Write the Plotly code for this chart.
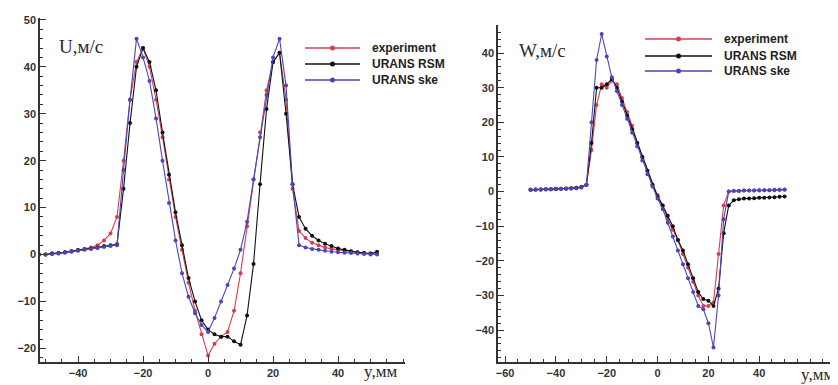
import plotly.graph_objects as go

# ---------------- Left panel: U, m/s ----------------
u_y = [-52, -50, -48, -46, -44, -42, -40, -38, -36, -34, -32, -30, -28, -26, -24, -22, -20, -18, -16,
       -14, -12, -10, -8, -6, -4, -2, 0, 2, 4, 6, 8, 10, 12, 14, 16, 18, 20, 22, 24, 26, 28, 30, 32,
       34, 36, 38, 40, 42, 44, 46, 48, 50, 52]
u_exp = [0, 0, 0.2, 0.3, 0.5, 0.7, 1.0, 1.2, 1.5, 2.0, 3.0, 4.5, 8, 20, 33, 41, 44, 40, 33,
         25, 16, 8, 1, -6, -12, -17, -21.5, -19, -17.5, -16.5, -12, -4, 6, 16, 26, 35, 41, 43, 33, 14,
         5, 3.5, 2.5, 2.0, 1.5, 1.2, 1.0, 0.8, 0.6, 0.4, 0.3, 0.2, 0.1]
u_rsm = [0, 0, 0.2, 0.3, 0.5, 0.7, 0.9, 1.1, 1.3, 1.5, 1.8, 2.0, 2.2, 14, 28, 40, 44, 41, 35,
         26, 17, 9, 2, -5, -10, -14, -16, -17, -17.5, -17.5, -18.5, -19.2, -13, -2, 15, 31, 41, 43, 30, 15,
         8, 5.5, 4, 3, 2.3, 1.8, 1.3, 1.0, 0.7, 0.5, 0.3, 0.2, 0.6]
u_ske = [0, 0, 0.1, 0.2, 0.4, 0.6, 0.8, 1.0, 1.2, 1.4, 1.6, 1.8, 2.0, 18, 33, 46, 42, 37, 29,
         20, 11, 3, -4, -9, -12.5, -15, -16.5, -13.5, -10, -6.5, -3, 1, 7, 16, 25, 34, 42, 46, 36, 15,
         2, 1.5, 1.2, 1.0, 0.8, 0.6, 0.5, 0.4, 0.3, 0.2, 0.1, 0, 0]

# ---------------- Right panel: W, m/s ----------------
w_y = [-50, -48, -46, -44, -42, -40, -38, -36, -34, -32, -30, -28, -26, -24, -22, -20, -18, -16, -14,
       -12, -10, -8, -6, -4, -2, 0, 2, 4, 6, 8, 10, 12, 14, 16, 18, 20, 22, 24, 26, 28, 30, 32, 34,
       36, 38, 40, 42, 44, 46, 48, 50]
w_exp = [0.5, 0.5, 0.6, 0.6, 0.7, 0.7, 0.8, 0.8, 0.9, 1.0, 1.2, 2, 12, 25, 31, 30, 32, 31, 27,
         23, 19, 14, 10, 6, 2, -1, -4, -8, -11, -14, -18, -22, -26, -30, -33, -33, -32, -18, -4, 0, 0.2, 0.2, 0.3,
         0.3, 0.3, 0.3, 0.4, 0.4, 0.4, 0.5, 0.5]
w_rsm = [0.5, 0.6, 0.6, 0.7, 0.7, 0.8, 0.8, 0.9, 1.0, 1.1, 1.3, 2, 14, 30, 30, 31, 32.5, 30, 26,
         22, 18, 14, 10, 6, 2, -1.5, -4, -7, -10, -14, -17, -21, -25, -29, -31, -31.5, -33, -28, -12, -4, -2.5, -2.2, -2.0,
         -2.0, -1.9, -1.8, -1.8, -1.7, -1.6, -1.5, -1.4]
w_ske = [0.6, 0.6, 0.6, 0.7, 0.7, 0.8, 0.8, 0.8, 0.9, 1.0, 1.2, 2, 20, 38, 45.5, 39, 33, 29, 25,
         21, 17, 13, 9, 5, 1.5, -2, -5, -9, -13, -17, -21, -25, -29, -33, -34, -38, -45, -30, -8, 0, 0.2, 0.2, 0.3,
         0.3, 0.3, 0.4, 0.4, 0.4, 0.5, 0.5, 0.6]

series_names = ["experiment", "URANS RSM", "URANS ske"]
series_colors = ["#d2404f", "#111111", "#4a46b8"]

u_ticks = [-20, -10, 0, 10, 20, 30, 40, 50]
u_xticks = [-40, -20, 0, 20, 40]
w_ticks = [-40, -30, -20, -10, 0, 10, 20, 30, 40]
w_xticks = [-60, -40, -20, 0, 20, 40]

# The page body adds an 8 px margin; lay everything out in window pixels.
OFF = 8
W, H = 838 - OFF, 385 - OFF


def px_x(p):
    return (p - OFF) / W


def px_y(p):
    return 1 - (p - OFF) / H


fig = go.Figure()

for name, col, vals in zip(series_names, series_colors, [u_exp, u_rsm, u_ske]):
    fig.add_trace(go.Scatter(x=u_y, y=vals, mode="lines+markers", name=name,
                             line=dict(color=col, width=1.1),
                             marker=dict(color=col, size=4, symbol="circle"),
                             xaxis="x", yaxis="y", showlegend=False))

for name, col, vals in zip(series_names, series_colors, [w_exp, w_rsm, w_ske]):
    fig.add_trace(go.Scatter(x=w_y, y=vals, mode="lines+markers", name=name,
                             line=dict(color=col, width=1.1),
                             marker=dict(color=col, size=4, symbol="circle"),
                             xaxis="x2", yaxis="y2", showlegend=False))

axis_common = dict(showgrid=False, zeroline=False, showline=True, linecolor="#333333", linewidth=1.5,
                   ticks="inside", ticklen=6, tickwidth=1.2, tickcolor="#333333",
                   tickfont=dict(family="Liberation Sans, Arial", size=11, color="#333333", weight="bold"),
                   mirror=False, automargin=False)

# legend drawn in window pixels (line, dot, label)
shapes = []
annotations = []
legend_specs = [
    (305, 360, 370, [48, 64, 80]),
    (645, 712, 722, [39, 56, 71]),
]
for x0, x1, xt, rows in legend_specs:
    for name, col, ry in zip(series_names, series_colors, rows):
        shapes.append(dict(type="line", xref="paper", yref="paper",
                           x0=px_x(x0), x1=px_x(x1), y0=px_y(ry), y1=px_y(ry),
                           line=dict(color=col, width=1.5)))
        xm = (x0 + x1) / 2
        shapes.append(dict(type="circle", xref="paper", yref="paper",
                           x0=px_x(xm - 2.5), x1=px_x(xm + 2.5), y0=px_y(ry + 2.5), y1=px_y(ry - 2.5),
                           fillcolor=col, line=dict(color=col, width=0)))
        annotations.append(dict(text=name, x=px_x(xt), y=px_y(ry), xref="paper", yref="paper",
                                xanchor="left", yanchor="middle", showarrow=False,
                                font=dict(family="Liberation Sans, Arial", size=12, color="#222222",
                                          weight="bold")))

annotations += [
    dict(text="U,м/с", x=px_x(57), y=px_y(46), xref="paper", yref="paper", xanchor="left",
         yanchor="middle", showarrow=False,
         font=dict(family="Liberation Serif, DejaVu Serif", size=19, color="#2a2a2a")),
    dict(text="W,м/с", x=px_x(517), y=px_y(50), xref="paper", yref="paper", xanchor="left",
         yanchor="middle", showarrow=False,
         font=dict(family="Liberation Serif, DejaVu Serif", size=19, color="#2a2a2a")),
    dict(text="y,мм", x=px_x(362), y=px_y(371), xref="paper", yref="paper", xanchor="left",
         yanchor="middle", showarrow=False,
         font=dict(family="Liberation Serif, DejaVu Serif", size=17, color="#2a2a2a")),
    dict(text="y,мм", x=px_x(836), y=px_y(374), xref="paper", yref="paper", xanchor="right",
         yanchor="middle", showarrow=False,
         font=dict(family="Liberation Serif, DejaVu Serif", size=17, color="#2a2a2a")),
]

fig.update_layout(
    width=W, height=H,
    margin=dict(l=0, r=0, t=0, b=0, autoexpand=False),
    paper_bgcolor="white", plot_bgcolor="white",
    xaxis=dict(domain=[px_x(40), px_x(405)], range=[-51.7, 60.6], tickvals=u_xticks,
               minor=dict(ticks="inside", ticklen=3, dtick=5, tickcolor="#333333"),
               anchor="y", **axis_common),
    yaxis=dict(domain=[px_y(362), px_y(18)], range=[-22.9, 50.4], tickvals=u_ticks,
               minor=dict(ticks="inside", ticklen=3, dtick=2, tickcolor="#333333"),
               anchor="x", **axis_common),
    xaxis2=dict(domain=[px_x(498), px_x(838)], range=[-62.8, 71], tickvals=w_xticks,
                minor=dict(ticks="inside", ticklen=3, dtick=5, tickcolor="#333333"),
                anchor="y2", **axis_common),
    yaxis2=dict(domain=[px_y(362), px_y(25)], range=[-49.2, 48.1], tickvals=w_ticks,
                minor=dict(ticks="inside", ticklen=3, dtick=2, tickcolor="#333333"),
                anchor="x2", **axis_common),
    showlegend=False,
    shapes=shapes,
    annotations=annotations,
)

fig.write_html("out.html")
